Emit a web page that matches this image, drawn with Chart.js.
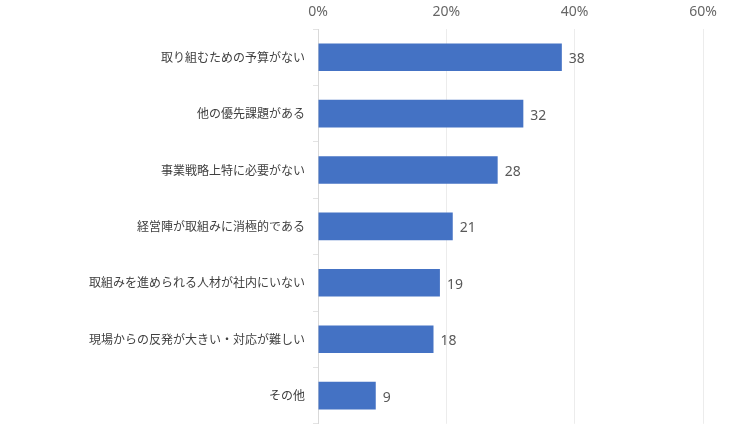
<!DOCTYPE html>
<html>
<head>
<meta charset="utf-8">
<script src="https://cdn.jsdelivr.net/npm/chart.js@4"></script>
<style>
  html, body { margin: 0; padding: 0; background: #fff; }
  #wrap { width: 750px; height: 439px; }
</style>
</head>
<body>
<div id="wrap"><canvas id="chart"></canvas></div>
<script>
const categories = [
  '取り組むための予算がない',
  '他の優先課題がある',
  '事業戦略上特に必要がない',
  '経営陣が取組みに消極的である',
  '取組みを進められる人材が社内にいない',
  '現場からの反発が大きい・対応が難しい',
  'その他'
];
const values = [38, 32, 28, 21, 19, 18, 9];
const xTicks = [0, 20, 40, 60];

// draws the value at the end of each bar
const barValues = {
  id: 'barValues',
  afterDatasetsDraw(chart) {
    const ctx = chart.ctx;
    const meta = chart.getDatasetMeta(0);
    ctx.save();
    ctx.font = '14px "Noto Sans", sans-serif';
    ctx.fillStyle = '#595959';
    ctx.textAlign = 'left';
    ctx.textBaseline = 'middle';
    meta.data.forEach((bar, i) => {
      ctx.fillText(values[i], bar.x + 7, bar.y + 2);
    });
    ctx.restore();
  }
};

const ctx = document.getElementById('chart');

new Chart(ctx, {
  type: 'bar',
  data: {
    labels: categories,
    datasets: [{
      data: values,
      backgroundColor: '#4472C4',
      borderWidth: 0,
      barPercentage: 0.49,
      categoryPercentage: 1
    }]
  },
  options: {
    indexAxis: 'y',
    responsive: true,
    maintainAspectRatio: false,
    animation: false,
    layout: { padding: { left: 0, right: 47, top: 0, bottom: 10 } },
    plugins: {
      legend: { display: false },
      tooltip: { enabled: false }
    },
    scales: {
      x: {
        position: 'top',
        min: 0,
        max: 60,
        afterBuildTicks(scale) {
          scale.ticks = xTicks.map(v => ({ value: v }));
        },
        afterFit(scale) { scale.height = 29; },
        grid: { color: '#ececec', drawTicks: false },
        border: { display: false },
        ticks: {
          padding: 9,
          color: '#666666',
          font: { family: '"Noto Sans", sans-serif', size: 14 },
          callback: v => v + '%'
        }
      },
      y: {
        afterFit(scale) { scale.width = 318; },
        grid: {
          offset: true,
          drawOnChartArea: false,
          tickLength: 5,
          color: '#e3e3e3'
        },
        border: { display: true, color: '#d9d9d9' },
        ticks: {
          padding: 8,
          color: '#404040',
          font: { family: '"Noto Sans CJK JP", sans-serif', size: 12 }
        }
      }
    }
  },
  plugins: [barValues]
});
</script>
</body>
</html>
